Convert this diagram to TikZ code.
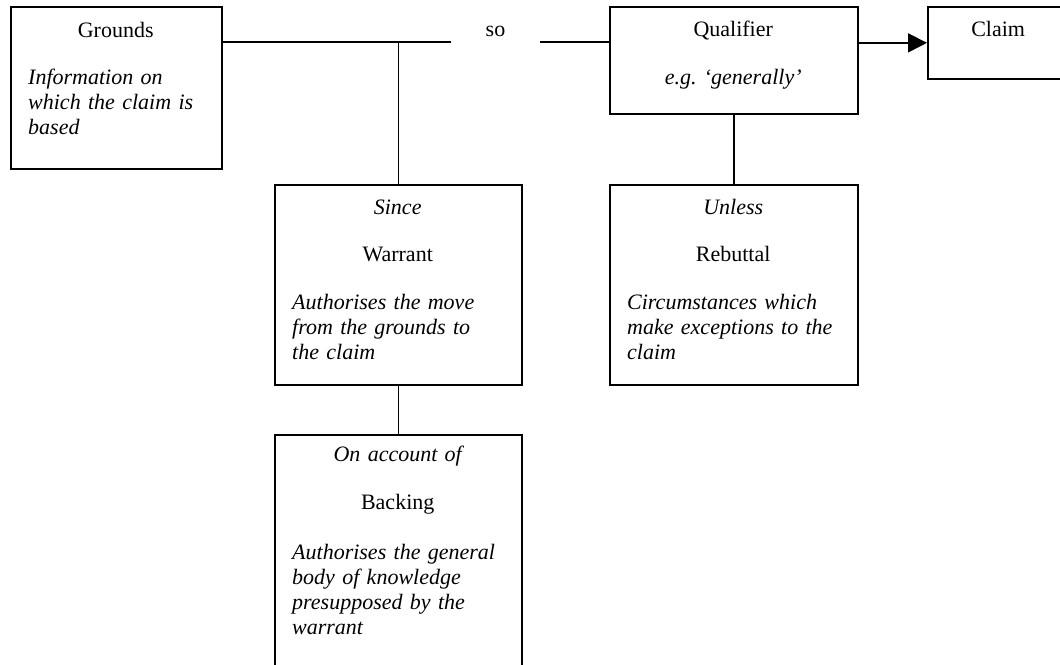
\documentclass[tikz,border=0pt]{standalone}
\usepackage{fontspec}
\setmainfont{Liberation Serif}
\usetikzlibrary{arrows.meta}
\frenchspacing
\begin{document}
\begin{tikzpicture}[x=1pt,y=-1pt,
  box/.style={draw, line width=1.7pt, inner sep=0pt, anchor=north west},
  txt/.style={inner sep=0pt, anchor=base west, font=\fontsize{22}{25}\selectfont},
  conn/.style={line width=1.7pt},
  arr/.style={conn, -{Triangle[length=19pt,width=19pt]}}]
\fill[white] (0,0) rectangle (1060,664);
\path[use as bounding box, clip] (0,0) rectangle (1060,664);
% boxes
\node[box, minimum width=211pt, minimum height=162pt] (grounds) at (10,6) {};
\node[box, minimum width=248pt, minimum height=107pt] (qualifier) at (609,6) {};
\node[box, minimum width=142pt, minimum height=72pt] (claim) at (927,6) {};
\node[box, minimum width=247pt, minimum height=200pt] (warrant) at (274,184) {};
\node[box, minimum width=248pt, minimum height=200pt] (rebuttal) at (609,184) {};
\node[box, minimum width=247pt, minimum height=250pt] (backing) at (274,434) {};
% texts
\node[txt, text width=175pt] (groundsT) at (28,37)
  {{\centering Grounds\par}\vspace{22pt}{\raggedright\itshape Information on\\which the claim is\\based\par}};
\node[txt, text width=212pt] (qualifierT) at (627,36)
  {{\centering Qualifier\par}\vspace{23pt}{\centering\itshape e.g. ‘generally’\par}};
\node[txt, text width=106pt] (claimT) at (945,36)
  {{\centering Claim\par}};
\node[txt, text width=211pt] (warrantT) at (292,214)
  {{\centering\itshape Since\par}\vspace{22pt}{\centering Warrant\par}\vspace{23pt}{\raggedright\itshape Authorises the move\\from the grounds to\\the claim\par}};
\node[txt, text width=212pt] (rebuttalT) at (627,214)
  {{\centering\itshape Unless\par}\vspace{22pt}{\centering Rebuttal\par}\vspace{23pt}{\raggedright\itshape Circumstances which\\make exceptions to the\\claim\par}};
\node[txt, text width=211pt] (backingT) at (292,461)
  {{\centering\itshape On account of\par}\vspace{23pt}{\centering Backing\par}\vspace{25pt}{\raggedright\itshape Authorises the general\\body of knowledge\\presupposed by the\\warrant\par}};
\node[inner sep=0pt, anchor=base, font=\fontsize{22}{25}\selectfont] (so) at (495.5,36) {so};
% connectors
\coordinate (sL) at (451,42);
\coordinate (sR) at (540,42);
\draw[conn] (grounds.east |- sL) -- (sL);
\draw[conn] (sR) -- (qualifier.west |- sR);
\draw[conn] (warrant.north) -- (warrant.north |- sL);
\draw[arr] (qualifier.east |- claim.west) -- (claim.west);
\draw[conn] (qualifier.south) -- (rebuttal.north);
\draw[conn] (warrant.south) -- (backing.north);
\end{tikzpicture}
\end{document}
